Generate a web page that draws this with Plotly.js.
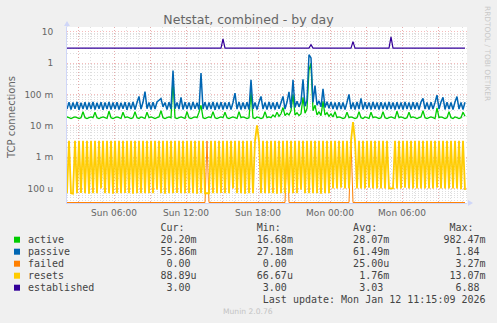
<!DOCTYPE html>
<html><head><meta charset="utf-8">
<script src="https://cdn.plot.ly/plotly-3.0.1.min.js"></script>
<style>html,body{margin:0;padding:0;background:#f0f0f0;}#chart{width:497px;height:323px;}</style>
</head><body><div id="chart"></div>
<script>
// Samples every 10 minutes starting Sun 2026-01-11 02:05
const startTime = Date.UTC(2026, 0, 11, 2, 5);
const stepMs = 10 * 60 * 1000;

const active = [
0.019,0.018,0.017,0.018,0.019,0.018,0.017,0.018,0.028,0.018,0.017,0.018,0.019,0.018,0.027,0.018,0.017,0.018,0.019,0.018,
0.017,0.029,0.018,0.017,0.018,0.019,0.018,0.017,0.027,0.018,0.019,0.018,0.017,0.018,0.028,0.018,0.017,0.019,0.018,0.017,
0.027,0.018,0.019,0.018,0.017,0.018,0.019,0.030,0.018,0.017,0.018,0.019,0.018,0.30,0.018,0.017,0.018,0.019,0.018,0.017,
0.028,0.018,0.017,0.018,0.019,0.018,0.027,0.045,0.018,0.017,0.018,0.019,0.018,0.028,0.018,0.017,0.018,0.019,0.018,0.027,
0.018,0.017,0.018,0.019,0.018,0.017,0.028,0.018,0.019,0.018,0.017,0.018,0.12,0.018,0.017,0.019,0.018,0.017,0.018,0.028,
0.018,0.019,0.018,0.022,0.019,0.027,0.020,0.024,0.038,0.021,0.025,0.022,0.030,0.10,0.022,0.026,0.021,0.024,0.08,0.025,
0.035,0.60,0.98,0.030,0.045,0.022,0.028,0.021,0.06,0.022,0.026,0.020,0.024,0.019,0.028,0.018,0.019,0.018,0.017,0.018,
0.027,0.018,0.019,0.018,0.017,0.018,0.028,0.018,0.017,0.019,0.018,0.017,0.027,0.018,0.019,0.018,0.017,0.018,0.028,0.018,
0.017,0.018,0.019,0.018,0.017,0.029,0.018,0.019,0.018,0.017,0.018,0.027,0.018,0.019,0.018,0.017,0.018,0.019,0.030,0.018,
0.017,0.018,0.019,0.018,0.017,0.037,0.018,0.019,0.018,0.017,0.018,0.028,0.018,0.017,0.019,0.018,0.017,0.018,0.027,0.020
];
const passive = [
0.034,0.056,0.033,0.055,0.035,0.057,0.032,0.054,0.034,0.056,0.033,0.055,0.034,0.057,0.033,0.054,0.035,0.056,0.032,0.055,
0.034,0.057,0.033,0.055,0.034,0.056,0.033,0.054,0.035,0.056,0.032,0.055,0.034,0.057,0.033,0.055,0.086,0.034,0.056,0.122,
0.035,0.055,0.033,0.056,0.034,0.057,0.065,0.073,0.040,0.055,0.033,0.056,0.034,0.58,0.035,0.055,0.034,0.080,0.033,0.056,
0.034,0.055,0.033,0.057,0.035,0.054,0.033,0.48,0.034,0.056,0.033,0.055,0.034,0.057,0.032,0.055,0.034,0.056,0.033,0.055,
0.034,0.056,0.033,0.055,0.110,0.034,0.057,0.033,0.055,0.034,0.056,0.033,0.29,0.034,0.055,0.033,0.056,0.086,0.034,0.055,
0.033,0.057,0.034,0.055,0.033,0.056,0.035,0.054,0.086,0.034,0.057,0.120,0.036,0.29,0.038,0.060,0.040,0.058,0.30,0.042,
0.065,1.84,1.45,0.055,0.19,0.045,0.062,0.040,0.15,0.038,0.058,0.036,0.057,0.034,0.055,0.033,0.056,0.034,0.055,0.033,
0.056,0.100,0.034,0.055,0.033,0.057,0.034,0.075,0.033,0.056,0.034,0.055,0.033,0.057,0.034,0.055,0.033,0.056,0.034,0.055,
0.033,0.057,0.034,0.055,0.033,0.056,0.034,0.055,0.033,0.057,0.034,0.055,0.033,0.056,0.034,0.055,0.033,0.057,0.075,0.034,
0.055,0.033,0.056,0.034,0.055,0.095,0.034,0.057,0.080,0.033,0.056,0.034,0.055,0.033,0.057,0.085,0.034,0.055,0.033,0.056
];
const failed = [
0,0,0,0,0,0,0,0,0,0,0,0,0,0,0,0,0,0,0,0,
0,0,0,0,0,0,0,0,0,0,0,0,0,0,0,0,0,0,0,0,
0,0,0,0,0,0,0,0,0,0,0,0,0,0,0,0,0,0,0,0,
0,0,0,0,0,0,0,0,0,0,3.27e-3,0,0,0,0,0,0,0,0,0,
0,0,0,0,0,0,0,0,0,0,0,0,0,0,0,0,0,0,0,0,
0,0,0,0,0,0,0,0,0,0,3.27e-3,0,0,0,0,0,0,0,0,0,
0,0,0,0,0,0,0,0,0,0,0,0,0,0,0,0,0,0,0,0,
0,0,3.27e-3,0,0,0,0,0,0,0,0,0,0,0,0,0,0,0,0,0,
0,0,0,0,0,0,0,0,0,0,0,0,0,0,0,0,0,0,0,0,
0,0,0,0,0,0,0,0,0,0,0,0,0,0,0,0,0,0,0,0
];
const resets = [
7e-5,3.3e-3,7e-5,6.8e-5,3.3e-3,7e-5,3.3e-3,7.2e-5,3.3e-3,7e-5,3.3e-3,6.8e-5,3.3e-3,7e-5,3.3e-3,7e-5,3.3e-3,1.0e-4,3.3e-3,7e-5,
3.3e-3,7e-5,3.3e-3,6.8e-5,3.3e-3,7e-5,3.3e-3,7e-5,3.3e-3,7.2e-5,3.3e-3,7e-5,3.3e-3,6.8e-5,3.3e-3,7e-5,3.3e-3,7e-5,3.3e-3,7e-5,
3.3e-3,7e-5,3.3e-3,7e-5,3.3e-3,9e-5,3.3e-3,7e-5,3.3e-3,6.8e-5,3.3e-3,7e-5,3.3e-3,7e-5,3.3e-3,7.2e-5,3.3e-3,7e-5,3.3e-3,7e-5,
3.3e-3,7e-5,3.3e-3,7e-5,3.3e-3,6.8e-5,3.3e-3,7e-5,3.3e-3,7e-5,7e-5,7e-5,3.3e-3,7e-5,3.3e-3,7e-5,3.3e-3,7.2e-5,3.3e-3,7e-5,
3.3e-3,7e-5,3.3e-3,1.0e-4,3.3e-3,7e-5,3.3e-3,7e-5,3.3e-3,6.8e-5,3.3e-3,7e-5,3.3e-3,7e-5,3.3e-3,1.02e-2,3.3e-3,7e-5,3.3e-3,7e-5,
3.3e-3,7e-5,3.3e-3,7e-5,3.3e-3,6.8e-5,3.3e-3,7e-5,3.3e-3,7e-5,3.3e-3,7.2e-5,3.3e-3,7e-5,3.3e-3,7e-5,3.3e-3,9e-5,3.3e-3,7e-5,
3.3e-3,7e-5,3.3e-3,7e-5,3.3e-3,7e-5,3.3e-3,6.8e-5,3.3e-3,7e-5,3.3e-3,7e-5,3.3e-3,1.0e-4,3.3e-3,1.0e-4,3.3e-3,1.05e-4,3.3e-3,1.0e-4,
3.3e-3,1.0e-4,3.3e-3,1.307e-2,3.3e-3,1.0e-4,3.3e-3,1.0e-4,3.3e-3,1.0e-4,3.3e-3,1.05e-4,3.3e-3,1.0e-4,3.3e-3,1.0e-4,3.3e-3,1.0e-4,3.3e-3,1.0e-4,
3.3e-3,1.0e-4,1.0e-4,1.0e-4,3.3e-3,1.0e-4,3.3e-3,1.0e-4,3.3e-3,1.05e-4,3.3e-3,1.0e-4,3.3e-3,1.0e-4,3.3e-3,1.0e-4,3.3e-3,1.0e-4,3.3e-3,1.0e-4,
3.3e-3,1.0e-4,3.3e-3,1.0e-4,3.3e-3,1.05e-4,3.3e-3,1.0e-4,3.3e-3,1.0e-4,3.3e-3,1.0e-4,3.3e-3,1.0e-4,3.3e-3,1.0e-4,3.3e-3,9.5e-5,3.3e-3,8.889e-5
];
const established = [
3,3,3,3,3,3,3,3,3,3,3,3,3,3,3,3,3,3,3,3,
3,3,3,3,3,3,3,3,3,3,3,3,3,3,3,3,3,3,3,3,
3,3,3,3,3,3,3,3,3,3,3,3,3,3,3,3,3,3,3,3,
3,3,3,3,3,3,3,3,3,3,3,3,3,3,3,3,3,3,5.85,3,
3,3,3,3,3,3,3,3,3,3,3,3,3,3,3,3,3,3,3,3,
3,3,3,3,3,3,3,3,3,3,3,3,3,3,3,3,3,3,3,3,
3,3,3.85,3,3,3,3,3,3,3,3,3,3,3,3,3,3,3,3,3,
3,3,3,4.8,3,3,3,3,3,3,3,3,3,3,3,3,3,3,3,3,
3,3,6.88,3,3,3,3,3,3,3,3,3,3,3,3,3,3,3,3,3,
3,3,3,3,3,3,3,3,3,3,3,3,3,3,3,3,3,3,3,3
];

const seriesNames = ['active', 'passive', 'failed', 'resets', 'established'];
const seriesColors = ['#00CC00', '#0066B3', '#FF8000', '#FFCC00', '#330099'];
const curVals = ['20.20m', '55.86m', '0.00', '88.89u', '3.00'];
const minVals = ['16.68m', '27.18m', '0.00', '66.67u', '3.00'];
const avgVals = ['28.07m', '61.49m', '25.00u', '1.76m', '3.03'];
const maxVals = ['982.47m', '1.84', '3.27m', '13.07m', '6.88'];
const lastUpdate = 'Last update: Mon Jan 12 11:15:09 2026';

const xTickVals = ['2026-01-11 03:00','2026-01-11 06:00','2026-01-11 09:00','2026-01-11 12:00','2026-01-11 15:00','2026-01-11 18:00','2026-01-11 21:00','2026-01-12 00:00','2026-01-12 03:00','2026-01-12 06:00','2026-01-12 09:00'];
const xTickText = ['', 'Sun 06:00', '', 'Sun 12:00', '', 'Sun 18:00', '', 'Mon 00:00', '', 'Mon 06:00', ''];
const yTickVals = [1e-4, 1e-3, 1e-2, 1e-1, 1, 10];
const yTickText = ['100 u', '1 m', '10 m', '100 m', '1', '10'];

const yRange = [-4.466, 1.15];
const xRange = ['2026-01-11 02:05', '2026-01-12 11:25'];

function fmt(ms) { return new Date(ms).toISOString().slice(0, 16).replace('T', ' '); }
const times = active.map((_, i) => fmt(startTime + i * stepMs));
const bottomVal = Math.pow(10, yRange[0] + 0.015);

const lineWidths = [1.3, 1.5, 1, 1.8, 1.2];
const seriesData = [active, passive, failed, resets, established];
const traces = seriesData.map((arr, k) => ({
  type: 'scatter', mode: 'lines', x: times,
  y: arr.map(v => v > 0 ? v : bottomVal),
  name: seriesNames[k],
  line: {color: seriesColors[k], width: lineWidths[k], simplify: false, shape: 'linear'},
  hoverinfo: 'skip'
}));

const yMinor = [];
for (let k = -5; k <= 1; k++) for (let m = 2; m <= 9; m++) yMinor.push(m * Math.pow(10, k));

const L = 67, T = 27, W = 400, H = 176;
const px = v => (v - L) / W;
const py = v => (T + H - v) / H;

const mono = {family: 'DejaVu Sans Mono', size: 10, color: '#444'};
const nb = '\u00A0';
function placeAt(line, str, col) {
  while (line.length < col) line.push(nb);
  for (let c = 0; c < str.length; c++) line[col + c] = str[c];
  return line;
}
function placeRight(line, str, endCol) {
  const hasUnit = /[a-z]$/i.test(str);
  const end = hasUnit ? endCol : endCol - 1;
  return placeAt(line, str, end - str.length);
}
const annotations = [];
const shapes = [];
const rowY0 = 227.7, rowStep = 12;
let hdr = [];
placeAt(hdr, 'Cur:', 22); placeAt(hdr, 'Min:', 38); placeAt(hdr, 'Avg:', 54); placeAt(hdr, 'Max:', 70);
annotations.push({text: hdr.join(''), x: px(26), y: py(rowY0), xref: 'paper', yref: 'paper', xanchor: 'left', yanchor: 'middle', showarrow: false, font: mono});
seriesNames.forEach((name, k) => {
  let line = [];
  placeAt(line, name, 0);
  placeRight(line, curVals[k], 28);
  placeRight(line, minVals[k], 44);
  placeRight(line, avgVals[k], 60);
  placeRight(line, maxVals[k], 76);
  const yy = rowY0 + rowStep * (k + 1);
  annotations.push({text: line.join(''), x: px(26), y: py(yy), xref: 'paper', yref: 'paper', xanchor: 'left', yanchor: 'middle', showarrow: false, font: mono});
  shapes.push({type: 'rect', xref: 'paper', yref: 'paper', x0: px(14), x1: px(20), y0: py(yy + 3), y1: py(yy - 3), fillcolor: seriesColors[k], line: {width: 0}});
});
let lu = []; placeAt(lu, lastUpdate, 39);
annotations.push({text: lu.join(''), x: px(26), y: py(rowY0 + rowStep * 6), xref: 'paper', yref: 'paper', xanchor: 'left', yanchor: 'middle', showarrow: false, font: mono});
annotations.push({text: 'Munin 2.0.76', x: px(248), y: py(311), xref: 'paper', yref: 'paper', xanchor: 'center', yanchor: 'middle', showarrow: false, font: {family: 'DejaVu Sans', size: 7.6, color: '#c4c4c4'}});
annotations.push({text: 'TCP connections', x: px(11), y: py(117), xref: 'paper', yref: 'paper', xanchor: 'center', yanchor: 'middle', textangle: -90, showarrow: false, font: {family: 'DejaVu Sans', size: 10, color: '#666'}});
annotations.push({text: 'RRDTOOL / TOBI OETIKER', x: px(488), y: py(53), xref: 'paper', yref: 'paper', xanchor: 'center', yanchor: 'middle', textangle: 90, showarrow: false, font: {family: 'DejaVu Sans', size: 7.4, color: '#c8c8c8'}});

// axis arrows
const P = (x, y) => px(x).toFixed(5) + ',' + py(y).toFixed(5);
shapes.push({type: 'path', xref: 'paper', yref: 'paper', path: 'M' + P(64, 26) + ' L' + P(70, 26) + ' L' + P(67, 21) + ' Z', fillcolor: '#CFD6F8', line: {width: 0}});
shapes.push({type: 'line', xref: 'paper', yref: 'paper', x0: px(67), x1: px(67), y0: py(27), y1: py(26), line: {color: '#CFD6F8', width: 1}});
shapes.push({type: 'path', xref: 'paper', yref: 'paper', path: 'M' + P(468, 200) + ' L' + P(468, 206) + ' L' + P(473, 203) + ' Z', fillcolor: '#CFD6F8', line: {width: 0}});

const gridMinor = '#dedede';
const gridMajor = 'rgba(235,120,120,0.5)';
const layout = {
  width: 497, height: 323,
  margin: {l: L, r: 497 - L - W, t: T, b: 323 - T - H, pad: 0},
  paper_bgcolor: '#F0F0F0', plot_bgcolor: '#FFFFFF',
  showlegend: false, hovermode: false,
  font: {family: 'DejaVu Sans', color: '#666'},
  title: {text: 'Netstat, combined - by day', font: {family: 'DejaVu Sans', size: 12.5, color: '#666'}, x: 0.5, xref: 'container', xanchor: 'center', y: 1 - 19.5 / 323, yref: 'container', yanchor: 'middle'},
  xaxis: {
    type: 'date', range: xRange, tickmode: 'array', tickvals: xTickVals, ticktext: xTickText,
    showgrid: true, gridcolor: gridMajor, griddash: '1px,2px', gridwidth: 1,
    minor: {tickmode: 'linear', tick0: '2026-01-11 00:00', dtick: 3600000, showgrid: true, gridcolor: gridMinor, griddash: '1px,2px', gridwidth: 1, ticks: ''},
    ticks: '', showline: true, linecolor: '#CFD6F8', linewidth: 1, zeroline: false,
    tickfont: {family: 'DejaVu Sans', size: 9, color: '#666'}, ticklabelstandoff: 1
  },
  yaxis: {
    type: 'log', range: yRange, tickmode: 'array', tickvals: yTickVals, ticktext: yTickText,
    showgrid: true, gridcolor: gridMajor, griddash: '1px,2px', gridwidth: 1,
    minor: {tickmode: 'array', tickvals: yMinor, showgrid: true, gridcolor: gridMinor, griddash: '1px,2px', gridwidth: 1, ticks: ''},
    ticks: '', showline: true, linecolor: '#CFD6F8', linewidth: 1, zeroline: false,
    tickfont: {family: 'DejaVu Sans', size: 9, color: '#666'}, ticklabelstandoff: 11
  },
  annotations: annotations,
  shapes: shapes
};
Plotly.newPlot('chart', traces, layout, {staticPlot: true, displayModeBar: false});
</script>
</body></html>
